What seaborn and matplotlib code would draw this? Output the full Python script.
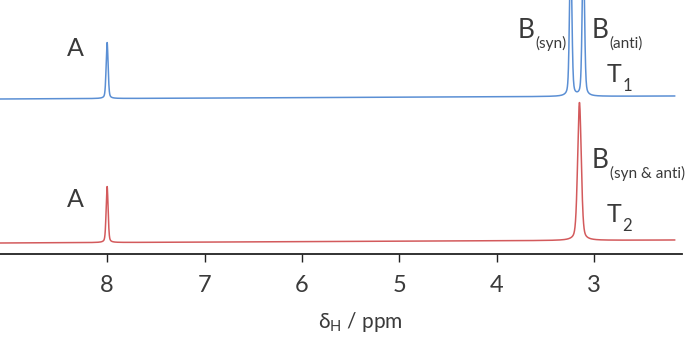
import numpy as np
import pandas as pd
import matplotlib
matplotlib.use("Agg")
import matplotlib.pyplot as plt
import seaborn as sns

# ---- data ----
ppm_range = [9.10, 2.17]                 # extent of the recorded spectrum
axis_limits = [9.10, 2.097]              # inverted ppm axis
tick_values = [8, 7, 6, 5, 4, 3]

# T1 (blue, upper trace)
t1_centers = [8.00, 3.24, 3.11]
t1_heights = [56, 150, 150]
t1_hwhm = [0.012, 0.014, 0.014]
t1_baseline = [155, 158]                 # left / right baseline level

# T2 (red, lower trace)
t2_centers = [8.00, 3.15]
t2_heights = [56, 138]
t2_hwhm = [0.012, 0.022]
t2_baseline = [11, 14]

BLUE = "#5b8fd4"
RED = "#d35a5c"


def pseudo_voigt(x, c, h, w, eta=0.35):
    lor = w**2 / ((x - c) ** 2 + w**2)
    gau = np.exp(-np.log(2) * ((x - c) / w) ** 2)
    return h * (eta * lor + (1 - eta) * gau)


x = np.linspace(ppm_range[0], ppm_range[1], 4000)


def spectrum(centers, heights, widths, base):
    frac = (ppm_range[0] - x) / (ppm_range[0] - ppm_range[1])
    y = base[0] + (base[1] - base[0]) * frac
    for c, h, w in zip(centers, heights, widths):
        y = y + pseudo_voigt(x, c, h, w)
    return y


df = pd.concat([
    pd.DataFrame({"ppm": x, "I": spectrum(t1_centers, t1_heights, t1_hwhm, t1_baseline), "trace": "T1"}),
    pd.DataFrame({"ppm": x, "I": spectrum(t2_centers, t2_heights, t2_hwhm, t2_baseline), "trace": "T2"}),
])

sns.set_theme(style="white")
plt.rcParams["font.family"] = ["Lato", "DejaVu Sans"]
plt.rcParams["mathtext.fontset"] = "custom"
plt.rcParams["mathtext.rm"] = "Lato"

fig = plt.figure(figsize=(6.9, 3.52), dpi=100)
ax = fig.add_axes([0.0, 1 - 254 / 352, 682 / 690, 254 / 352])

sns.lineplot(data=df, x="ppm", y="I", hue="trace", palette={"T1": BLUE, "T2": RED},
             linewidth=1.1, legend=False, ax=ax, sort=False, estimator=None)

TXT = "#3a3a3a"

ax.set_xlim(axis_limits)
ax.set_ylim(0, 254)
ax.set_yticks([])
ax.set_ylabel("")
ax.set_xticks(tick_values)
ax.set_xticklabels([str(t) for t in tick_values], fontsize=17, color=TXT, fontweight="normal")
ax.tick_params(axis="x", direction="out", length=6, width=1.0, color="#222222", pad=9, bottom=True)
for s in ["top", "left", "right"]:
    ax.spines[s].set_visible(False)
ax.spines["bottom"].set_color("#222222")
ax.spines["bottom"].set_linewidth(1.3)

ax.set_xlabel(r"$\mathregular{\delta_H}$ / ppm", fontsize=15, color=TXT, fontweight="normal")
ax.xaxis.set_label_coords(360 / 682, -0.22)


def label(xv, yv, main, sub=None, size=18, subsize=11, drop=-3.5):
    t = ax.text(xv, yv, main, fontsize=size, color=TXT, ha="left", va="baseline", fontweight="normal")
    if sub:
        ax.annotate(sub, xy=(1.0, 0.0), xycoords=t, xytext=(0.5, drop), textcoords="offset points",
                    fontsize=subsize, color=TXT, ha="left", va="baseline", fontweight="normal")
    return t


label(8.41, 198, "A", size=18)
label(8.41, 47, "A", size=18)
label(3.78, 216, "B", "(syn)", size=19)
label(3.02, 216, "B", "(anti)", size=19)
label(2.867, 172, "T", "1", size=18, subsize=12)
label(3.02, 86, "B", "(syn & anti)", size=19)
label(2.867, 32, "T", "2", size=18, subsize=12)

fig.savefig("out.png", dpi=100)
